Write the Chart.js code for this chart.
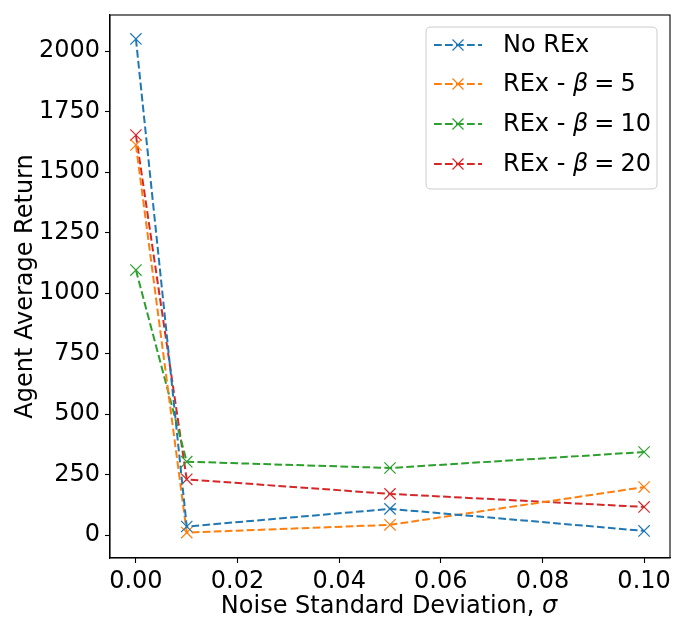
<!DOCTYPE html>
<html>
<head>
<meta charset="utf-8">
<script src="https://cdn.jsdelivr.net/npm/chart.js@4"></script>
<style>
html,body{margin:0;padding:0;background:#fff;}
#wrap{width:684px;height:633px;}
</style>
</head>
<body>
<div id="wrap"><canvas id="c" width="684" height="633"></canvas></div>
<script>
const noiseLevels = [0.0, 0.01, 0.05, 0.1];
const noRex = [2050, 35, 108, 17];
const rexBeta5 = [1612, 10, 42, 198];
const rexBeta10 = [1095, 303, 277, 343];
const rexBeta20 = [1653, 230, 170, 116];
const seriesNames = ['No REx', 'REx - β = 5', 'REx - β = 10', 'REx - β = 20'];
const betaValues = [null, '5', '10', '20'];
const xTicks = [0.00, 0.02, 0.04, 0.06, 0.08, 0.10];
const yTicks = [0, 250, 500, 750, 1000, 1250, 1500, 1750, 2000];
const xTitle = 'Noise Standard Deviation, ';
const xTitleSymbol = 'σ';
const yTitle = 'Agent Average Return';
const colors = ['#1f77b4', '#ff7f0e', '#2ca02c', '#d62728'];

const FONT = "'DejaVu Sans', sans-serif";
const DASH = [7.7, 3.3];
const allSeries = [noRex, rexBeta5, rexBeta10, rexBeta20];

const datasets = allSeries.map((vals, i) => ({
  label: seriesNames[i],
  data: noiseLevels.map((x, j) => ({x: x, y: vals[j]})),
  borderColor: colors[i],
  backgroundColor: colors[i],
  borderWidth: 2,
  borderDash: DASH,
  pointStyle: 'crossRot',
  pointRadius: 8,
  pointBorderWidth: 1.2,
  pointHoverRadius: 8,
  showLine: true,
  fill: false,
  tension: 0
}));

const framePlugin = {
  id: 'frame',
  afterDraw(chart) {
    const ctx = chart.ctx;
    const a = chart.chartArea;
    ctx.save();
    ctx.strokeStyle = '#000';
    ctx.lineWidth = 1.1;
    ctx.strokeRect(a.left, a.top, a.right - a.left, a.bottom - a.top);
    ctx.fillStyle = '#000';
    ctx.textBaseline = 'alphabetic';
    ctx.textAlign = 'left';
    ctx.font = '24px ' + FONT;
    const w1 = ctx.measureText(xTitle).width;
    ctx.font = 'italic 24px ' + FONT;
    const w2 = ctx.measureText(xTitleSymbol).width;
    let x = 389 - (w1 + w2) / 2;
    ctx.font = '24px ' + FONT;
    ctx.fillText(xTitle, x, 613);
    ctx.font = 'italic 24px ' + FONT;
    ctx.fillText(xTitleSymbol, x + w1, 613);
    ctx.restore();
  }
};

const legendPlugin = {
  id: 'customLegend',
  afterDraw(chart) {
    const ctx = chart.ctx;
    ctx.save();
    const bx = 426, by = 27, bw = 231, bh = 162, r = 5;
    ctx.beginPath();
    ctx.moveTo(bx + r, by);
    ctx.lineTo(bx + bw - r, by);
    ctx.quadraticCurveTo(bx + bw, by, bx + bw, by + r);
    ctx.lineTo(bx + bw, by + bh - r);
    ctx.quadraticCurveTo(bx + bw, by + bh, bx + bw - r, by + bh);
    ctx.lineTo(bx + r, by + bh);
    ctx.quadraticCurveTo(bx, by + bh, bx, by + bh - r);
    ctx.lineTo(bx, by + r);
    ctx.quadraticCurveTo(bx, by, bx + r, by);
    ctx.closePath();
    ctx.fillStyle = 'rgba(255,255,255,0.8)';
    ctx.fill();
    ctx.strokeStyle = '#cccccc';
    ctx.lineWidth = 1;
    ctx.stroke();

    const rows = [45, 84, 124, 164];
    rows.forEach((y, i) => {
      ctx.strokeStyle = colors[i];
      ctx.lineWidth = 2;
      ctx.setLineDash(DASH);
      ctx.beginPath();
      ctx.moveTo(434, y);
      ctx.lineTo(482, y);
      ctx.stroke();
      ctx.setLineDash([]);
      ctx.lineWidth = 1.2;
      const s = 5.5;
      ctx.beginPath();
      ctx.moveTo(458 - s, y - s); ctx.lineTo(458 + s, y + s);
      ctx.moveTo(458 - s, y + s); ctx.lineTo(458 + s, y - s);
      ctx.stroke();

      ctx.fillStyle = '#000';
      ctx.textBaseline = 'middle';
      ctx.textAlign = 'left';
      let x = 503;
      const ty = y + 1;
      if (betaValues[i] === null) {
        ctx.font = '24px ' + FONT;
        ctx.fillText(seriesNames[i], x, ty);
      } else {
        ctx.font = '24px ' + FONT;
        const pre = 'REx - ';
        ctx.fillText(pre, x, ty);
        x += ctx.measureText(pre).width;
        ctx.font = 'italic 24px ' + FONT;
        ctx.fillText('β', x, ty);
        x += ctx.measureText('β').width + 6;
        ctx.font = '24px ' + FONT;
        ctx.fillText('=', x, ty);
        x += ctx.measureText('=').width + 6;
        ctx.fillText(betaValues[i], x, ty);
      }
    });
    ctx.restore();
  }
};

new Chart(document.getElementById('c'), {
  type: 'scatter',
  data: { datasets: datasets },
  options: {
    responsive: false,
    animation: false,
    devicePixelRatio: 1,
    layout: { padding: { top: 15, right: 14, left: 0, bottom: 0 } },
    plugins: { legend: { display: false }, tooltip: { enabled: false } },
    scales: {
      x: {
        type: 'linear',
        min: -0.0051,
        max: 0.1051,
        afterFit(scale) {
          scale.height = 75;
          scale.paddingLeft = 0; scale.paddingRight = 0;
          scale.paddingTop = 0; scale.paddingBottom = 0;
        },
        afterBuildTicks(scale) { scale.ticks = xTicks.map(v => ({value: v})); },
        grid: { display: true, drawOnChartArea: false, drawTicks: true, tickLength: 5, color: '#000', tickWidth: 1.1 },
        border: { display: true, color: '#000', width: 1.1 },
        ticks: {
          font: { family: FONT, size: 24 },
          color: '#000',
          padding: 4,
          maxRotation: 0,
          autoSkip: false,
          callback: (v) => Number(v).toFixed(2)
        },
        title: { display: false }
      },
      y: {
        type: 'linear',
        min: -95,
        max: 2149,
        afterFit(scale) {
          scale.width = 110;
          scale.paddingTop = 0; scale.paddingBottom = 0;
          scale.paddingLeft = 0; scale.paddingRight = 0;
        },
        afterBuildTicks(scale) { scale.ticks = yTicks.map(v => ({value: v})); },
        grid: { display: true, drawOnChartArea: false, drawTicks: true, tickLength: 5, color: '#000', tickWidth: 1.1 },
        border: { display: true, color: '#000', width: 1.1 },
        ticks: {
          font: { family: FONT, size: 24 },
          color: '#000',
          padding: 5,
          autoSkip: false,
          callback: (v) => String(v)
        },
        title: {
          display: true,
          text: yTitle,
          font: { family: FONT, size: 24 },
          color: '#000',
          padding: { top: 11, bottom: 0 }
        }
      }
    }
  },
  plugins: [framePlugin, legendPlugin]
});
</script>
</body>
</html>
